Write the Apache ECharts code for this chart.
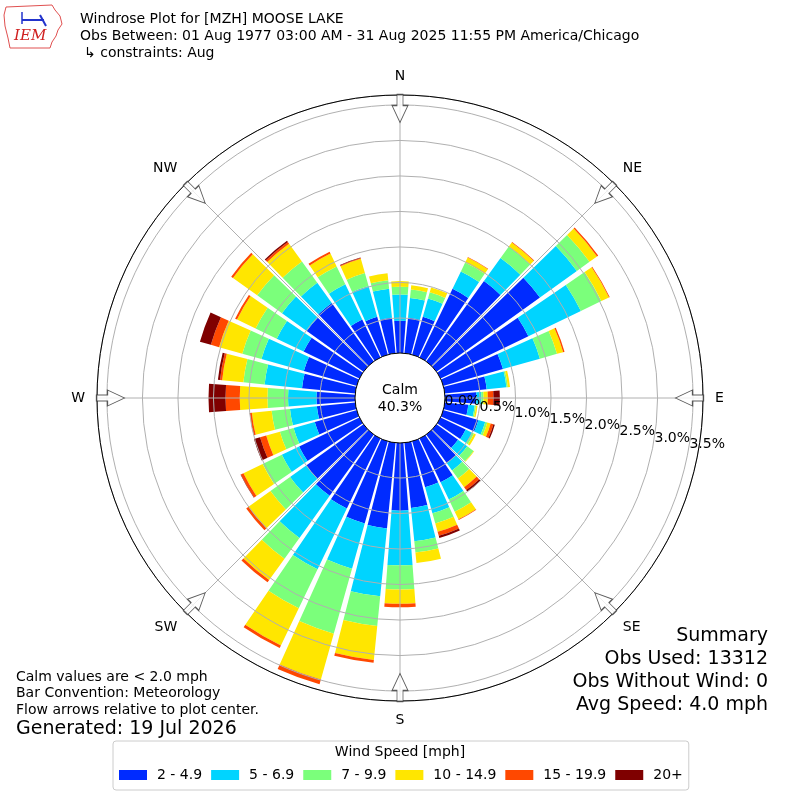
<!DOCTYPE html>
<html>
<head>
<meta charset="utf-8">
<script src="https://cdn.jsdelivr.net/npm/echarts@6/dist/echarts.min.js"></script>
<style>
html,body{margin:0;padding:0;background:#fff;}
#chart{width:800px;height:800px;}
</style>
</head>
<body>
<div id="chart"></div>
<script>
// Direction bins (degrees, meteorological convention, clockwise from North)
const directions = [0,10,20,30,40,50,60,70,80,90,100,110,120,130,140,150,160,170,180,190,200,210,220,230,240,250,260,270,280,290,300,310,320,330,340,350];
// Frequency (%) per speed bin, per direction
const spd2to5   = [0.46,0.51,0.56,1.08,1.40,1.80,1.38,0.88,0.60,0.45,0.34,0.52,0.40,0.38,0.50,0.69,0.68,0.93,0.96,1.22,1.21,1.10,1.07,1.00,0.95,0.62,0.55,0.55,0.76,0.78,0.88,0.99,1.02,0.60,0.56,0.51];
const spd5to7   = [0.37,0.28,0.27,0.27,0.40,0.64,0.82,0.54,0.28,0.07,0.09,0.10,0.10,0.16,0.13,0.27,0.38,0.47,0.77,0.96,0.66,0.95,0.73,0.28,0.27,0.31,0.38,0.40,0.53,0.62,0.42,0.43,0.35,0.55,0.45,0.41];
const spd7to10  = [0.11,0.12,0.09,0.14,0.20,0.22,0.32,0.25,0.02,0.03,0.02,0.03,0.03,0.11,0.14,0.19,0.15,0.16,0.34,0.42,0.95,0.61,0.36,0.34,0.30,0.20,0.26,0.29,0.30,0.28,0.33,0.43,0.37,0.28,0.19,0.12];
const spd10to15 = [0.08,0.06,0.07,0.08,0.07,0.13,0.12,0.09,0.03,0.06,0.02,0.05,0.03,0.01,0.15,0.12,0.12,0.15,0.20,0.48,0.67,0.58,0.37,0.38,0.30,0.20,0.28,0.39,0.30,0.34,0.29,0.42,0.31,0.20,0.21,0.10];
const spd15to20 = [0,0,0,0.005,0.01,0.02,0.01,0.02,0,0.08,0,0.04,0,0,0.05,0.01,0.06,0,0.05,0.04,0.07,0.04,0.04,0.04,0.04,0.09,0.03,0.20,0.03,0.12,0.03,0.03,0.03,0.03,0.01,0];
const spd20plus = [0,0,0,0,0,0,0,0,0,0.09,0,0.02,0,0,0.03,0,0.03,0,0,0,0,0,0,0,0.005,0.09,0,0.24,0.03,0.16,0,0,0.02,0,0.01,0];
const speedBins = ['2 - 4.9','5 - 6.9','7 - 9.9','10 - 14.9','15 - 19.9','20+'];
const speedColors = ['#002bff','#00d4ff','#7bff7b','#ffe600','#ff4800','#7f0000'];
const compassLabels = ['N','NE','E','SE','S','SW','W','NW'];
const compassAngles = [0,45,90,135,180,225,270,315];
const radiusTicks = [0,0.5,1.0,1.5,2.0,2.5,3.0,3.5];
const rMax = 3.64;

const chart = echarts.init(document.getElementById('chart'), null, {renderer:'canvas'});
const FONT = 'DejaVu Sans';
const polarCenter = [400, 398];
const polarRadius = [44.5, 303];
const labelAngle = -9.8;

const seriesData = [spd2to5, spd5to7, spd7to10, spd10to15, spd15to20, spd20plus];
const barSeries = seriesData.map((d, i) => ({
  name: speedBins[i],
  type: 'bar',
  coordinateSystem: 'polar',
  polarIndex: 0,
  stack: 'wind',
  barCategoryGap: '14%',
  data: d,
  itemStyle: {color: speedColors[i]},
  silent: true,
  z: 2
}));

const arrowPath = 'path://M5,0 L11,0 L11,11 L16,11 L8,28 L0,11 L5,11 Z';
const arrowSeries = {
  type: 'scatter',
  coordinateSystem: 'polar',
  polarIndex: 1,
  symbol: arrowPath,
  symbolSize: [16, 28],
  itemStyle: {color: '#fff', borderColor: '#333', borderWidth: 1},
  data: compassAngles.map(a => ({value: [3.45, a], symbolRotate: -a})),
  silent: true,
  z: 20
};

function tickLabel(v, onlyZero) {
  const i = radiusTicks.findIndex(t => Math.abs(t - v) < 1e-6);
  if (i < 0) return '';
  if (onlyZero) return i === 0 ? radiusTicks[0].toFixed(1) + '%' : '';
  return i === 0 ? '' : radiusTicks[i].toFixed(1) + '%';
}
const rLabelStyle = {color: '#000', fontSize: 14, fontFamily: FONT, align: 'left', verticalAlign: 'middle', margin: 4, hideOverlap: false};

const option = {
  backgroundColor: '#fff',
  animation: false,
  textStyle: {fontFamily: FONT},
  polar: [
    {center: polarCenter, radius: polarRadius},
    {center: polarCenter, radius: polarRadius},
    {center: polarCenter, radius: polarRadius},
    {center: polarCenter, radius: polarRadius}
  ],
  angleAxis: [
    {polarIndex: 0, type: 'category', data: directions, startAngle: 95, clockwise: true, show: false},
    {polarIndex: 1, type: 'value', min: 0, max: 360, interval: 45, startAngle: 90, clockwise: true, z: 5,
      axisLine: {show: true, lineStyle: {color: '#000', width: 1}},
      axisTick: {show: false},
      splitLine: {show: true, lineStyle: {color: '#b0b0b0', width: 1}},
      axisLabel: {show: true, margin: 12, color: '#000', fontSize: 14, fontFamily: FONT,
        formatter: v => { const i = compassAngles.indexOf(v); return i >= 0 ? compassLabels[i] : ''; }}
    },
    {polarIndex: 2, type: 'value', min: 0, max: 360, startAngle: labelAngle, clockwise: true, show: false},
    {polarIndex: 3, type: 'value', min: 0, max: 360, startAngle: labelAngle, clockwise: true, show: false}
  ],
  radiusAxis: [
    {polarIndex: 0, type: 'value', min: 0, max: rMax, show: false},
    {polarIndex: 1, type: 'value', min: 0, max: rMax, interval: 0.5, z: 5,
      axisLine: {show: false}, axisTick: {show: false}, axisLabel: {show: false},
      splitLine: {show: true, lineStyle: {color: '#b0b0b0', width: 1}}},
    {polarIndex: 2, type: 'value', min: 0, max: rMax, interval: 0.5, z: 60,
      axisLine: {show: false}, axisTick: {show: false}, splitLine: {show: false},
      axisLabel: Object.assign({show: true, showMinLabel: false, formatter: v => tickLabel(v, false)}, rLabelStyle)},
    {polarIndex: 3, type: 'value', min: 0, max: rMax, interval: 0.5, z: 60,
      axisLine: {show: false}, axisTick: {show: false}, splitLine: {show: false},
      axisLabel: Object.assign({show: true, showMinLabel: true, formatter: v => tickLabel(v, true)}, rLabelStyle)}
  ],
  legend: {
    data: speedBins,
    left: 113, top: 741,
    orient: 'horizontal',
    icon: 'rect',
    itemWidth: 28, itemHeight: 10, itemGap: 9,
    padding: [27, 6, 8, 6],
    borderColor: '#cccccc', borderWidth: 1, borderRadius: 3,
    textStyle: {fontSize: 14, color: '#000', fontFamily: FONT, padding: [0, 0, 0, 5]},
    selectedMode: false
  },
  graphic: [
    // IEM logo
    {type: 'polyline', z: 100, shape: {points: [[6,7],[52,5],[55,10],[60,16],[62,24],[58,30],[56,36],[52,42],[50,48],[10,48],[8,38],[5,26],[4,15],[6,7]]}, style: {stroke: '#e05050', fill: null, lineWidth: 1}},
    {type: 'line', z: 100, shape: {x1: 22, y1: 20, x2: 44, y2: 20}, style: {stroke: '#2233cc', lineWidth: 2}},
    {type: 'line', z: 100, shape: {x1: 22, y1: 12, x2: 22, y2: 24}, style: {stroke: '#2233cc', lineWidth: 1.5}},
    {type: 'line', z: 100, shape: {x1: 40, y1: 15, x2: 46, y2: 26}, style: {stroke: '#2233cc', lineWidth: 2}},
    {type: 'text', z: 100, left: 14, top: 29, style: {text: 'IEM', fill: '#d02020', font: 'italic 15px "DejaVu Serif", serif'}},
    // Titles
    {type: 'text', z: 100, left: 80, top: 12, style: {text: 'Windrose Plot for [MZH] MOOSE LAKE', fill: '#000', font: '14px "DejaVu Sans"'}},
    {type: 'text', z: 100, left: 80, top: 29, style: {text: 'Obs Between: 01 Aug 1977 03:00 AM - 31 Aug 2025 11:55 PM America/Chicago', fill: '#000', font: '14px "DejaVu Sans"'}},
    {type: 'text', z: 100, left: 84, top: 46, style: {text: '\u21b3 constraints: Aug', fill: '#000', font: '14px "DejaVu Sans"'}},
    // Calm hole
    {type: 'circle', z: 50, shape: {cx: 400, cy: 398, r: 45}, style: {fill: '#fff', stroke: '#000', lineWidth: 1}},
    {type: 'text', z: 51, x: 400, y: 390, style: {text: 'Calm', fill: '#000', font: '14px "DejaVu Sans"', textAlign: 'center', textVerticalAlign: 'middle'}},
    {type: 'text', z: 51, x: 400, y: 407, style: {text: '40.3%', fill: '#000', font: '14px "DejaVu Sans"', textAlign: 'center', textVerticalAlign: 'middle'}},
    // Bottom-left notes
    {type: 'text', z: 100, x: 16, y: 677, style: {text: 'Calm values are < 2.0 mph', fill: '#000', font: '14px "DejaVu Sans"', textVerticalAlign: 'middle'}},
    {type: 'text', z: 100, x: 16, y: 693, style: {text: 'Bar Convention: Meteorology', fill: '#000', font: '14px "DejaVu Sans"', textVerticalAlign: 'middle'}},
    {type: 'text', z: 100, x: 16, y: 710, style: {text: 'Flow arrows relative to plot center.', fill: '#000', font: '14px "DejaVu Sans"', textVerticalAlign: 'middle'}},
    {type: 'text', z: 100, x: 16, y: 729, style: {text: 'Generated: 19 Jul 2026', fill: '#000', font: '19px "DejaVu Sans"', textVerticalAlign: 'middle'}},
    // Summary
    {type: 'text', z: 100, x: 768, y: 636, style: {text: 'Summary', fill: '#000', font: '19px "DejaVu Sans"', textAlign: 'right', textVerticalAlign: 'middle'}},
    {type: 'text', z: 100, x: 768, y: 659, style: {text: 'Obs Used: 13312', fill: '#000', font: '19px "DejaVu Sans"', textAlign: 'right', textVerticalAlign: 'middle'}},
    {type: 'text', z: 100, x: 768, y: 682, style: {text: 'Obs Without Wind: 0', fill: '#000', font: '19px "DejaVu Sans"', textAlign: 'right', textVerticalAlign: 'middle'}},
    {type: 'text', z: 100, x: 768, y: 705, style: {text: 'Avg Speed: 4.0 mph', fill: '#000', font: '19px "DejaVu Sans"', textAlign: 'right', textVerticalAlign: 'middle'}},
    // Legend title
    {type: 'text', z: 100, x: 400, y: 752, style: {text: 'Wind Speed [mph]', fill: '#000', font: '14px "DejaVu Sans"', textAlign: 'center', textVerticalAlign: 'middle'}}
  ],
  series: barSeries.concat([arrowSeries])
};
chart.setOption(option);
</script>
</body>
</html>
